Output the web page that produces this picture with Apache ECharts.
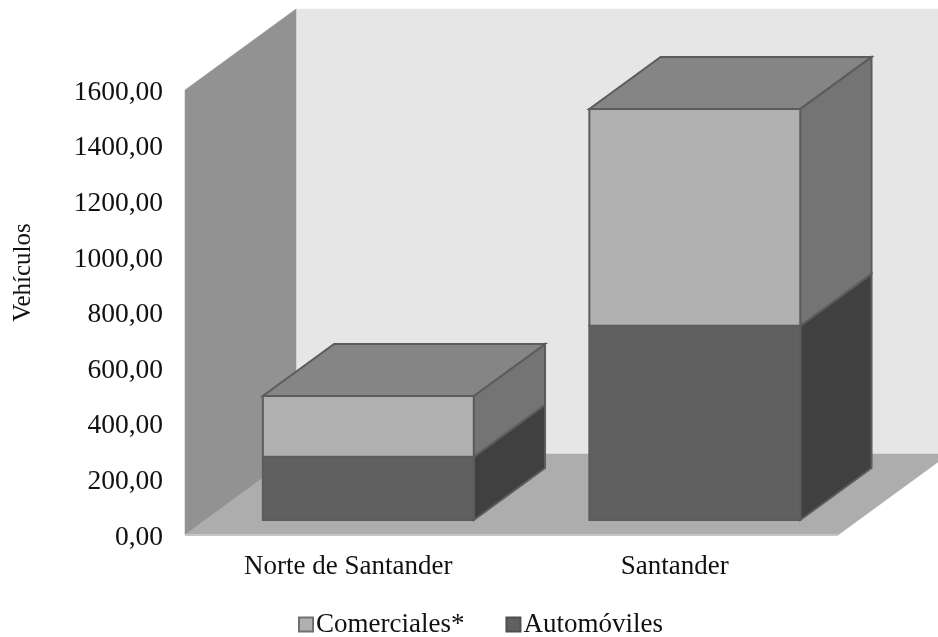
<!DOCTYPE html>
<html><head><meta charset="utf-8">
<style>html,body{margin:0;background:#fff}#c{width:938px;height:637px}</style>
<script src="https://cdn.jsdelivr.net/npm/echarts@6/dist/echarts.min.js"></script>
</head><body><div id="c"></div>
<script>
const categories = ['Norte de Santander', 'Santander'];
const automoviles = [227, 698];
const comerciales = [219, 780];
const seriesNames = ['Comerciales*', 'Automóviles'];
const depth = [111, -81];
const FONT = '"Liberation Serif","Times New Roman",serif';
const edge = '#5c5c5c';

const chart = echarts.init(document.getElementById('c'));
function poly(points, fill, stroke) {
  return {type:'polygon', shape:{points}, style:{fill, stroke: stroke||fill, lineWidth: stroke?2:0.5}};
}
function shift(p, t) { return [p[0]+depth[0]*t, p[1]+depth[1]*t]; }
function box(api, lo, hi, colors, withTop) {
  const c = api.value(0);
  const w = api.size([1,0])[0]*0.646;
  const t0 = 15/81, t1 = 67/81;
  const a = api.coord([c, lo]), b = api.coord([c, hi]);
  const l = a[0]-w/2-0.5, r = a[0]+w/2-0.5;
  const fbl = shift([l,a[1]],t0), fbr = shift([r,a[1]],t0), ftl = shift([l,b[1]],t0), ftr = shift([r,b[1]],t0);
  const bbr = shift([r,a[1]],t1), btl = shift([l,b[1]],t1), btr = shift([r,b[1]],t1);
  const kids = [
    poly([fbr,bbr,btr,ftr], colors.side, edge),
    poly([fbl,fbr,ftr,ftl], colors.front, edge)
  ];
  if (withTop) kids.push(poly([ftl,ftr,btr,btl], colors.top, edge));
  return {type:'group', children:kids};
}
chart.setOption({
  animation:false,
  backgroundColor:'#fff',
  grid:{left:185,right:100,top:90,bottom:102},
  legend:{
    left:293, top:606, icon:'rect', itemWidth:14, itemHeight:14, itemGap:41,
    data:seriesNames,
    textStyle:{fontFamily:FONT,fontSize:27,color:'#111',padding:[0,0,0,-2]},
    selectedMode:false
  },
  xAxis:{type:'category',data:categories,
    axisLine:{show:false},axisTick:{show:false},
    axisLabel:{fontFamily:FONT,fontSize:27,color:'#111',margin:18}},
  yAxis:{type:'value',min:0,max:1600,interval:200,
    name:'Vehículos',nameLocation:'middle',nameGap:149,nameRotate:90,
    nameTextStyle:{fontFamily:FONT,fontSize:25,color:'#111',padding:[0,0,0,80]},
    splitLine:{show:false},axisLine:{show:false},axisTick:{show:false},
    axisLabel:{fontFamily:FONT,fontSize:27.5,color:'#111',margin:22,
      rich:{t:{fontFamily:FONT,fontSize:27.5,color:'#111',padding:[5,0,0,0]}},
      formatter:v=>'{t|'+v.toFixed(2).replace('.',',')+'}'}},
  series:[
    {type:'custom',name:'walls',coordinateSystem:'cartesian2d',clip:false,silent:true,z:1,
     data:[[0,0]],
     renderItem:(p,api)=>{
       const g=p.coordSys;
       const bl=[g.x,g.y+g.height], br=[g.x+g.width,g.y+g.height], tl=[g.x,g.y];
       const tr=[g.x+g.width,g.y];
       return {type:'group',children:[
         poly([shift(bl,1),shift(br,1),shift(tr,1),shift(tl,1)],'#e6e6e6'),
         poly([bl,shift(bl,1),shift(tl,1),tl],'#929292'),
         poly([bl,br,shift(br,1),shift(bl,1)],'#adadad'),
         {type:'line',shape:{x1:bl[0],y1:bl[1],x2:br[0],y2:br[1]},style:{stroke:'#c6c6c6',lineWidth:2}}
       ]};
     }},
    {type:'custom',name:seriesNames[1],coordinateSystem:'cartesian2d',clip:false,z:2,
     itemStyle:{color:'#606060',borderColor:'#4e4e4e',borderWidth:1},
     data:categories.map((c,i)=>[i,automoviles[i]]),
     renderItem:(p,api)=>box(api,0,api.value(1),{front:'#606060',side:'#404040',top:'#848484'},false)},
    {type:'custom',name:seriesNames[0],coordinateSystem:'cartesian2d',clip:false,z:3,
     itemStyle:{color:'#b0b0b0',borderColor:'#707070',borderWidth:1},
     data:categories.map((c,i)=>[i,automoviles[i],automoviles[i]+comerciales[i]]),
     renderItem:(p,api)=>box(api,api.value(1),api.value(2),{front:'#b0b0b0',side:'#747474',top:'#858585'},true)}
  ]
});
</script></body></html>
